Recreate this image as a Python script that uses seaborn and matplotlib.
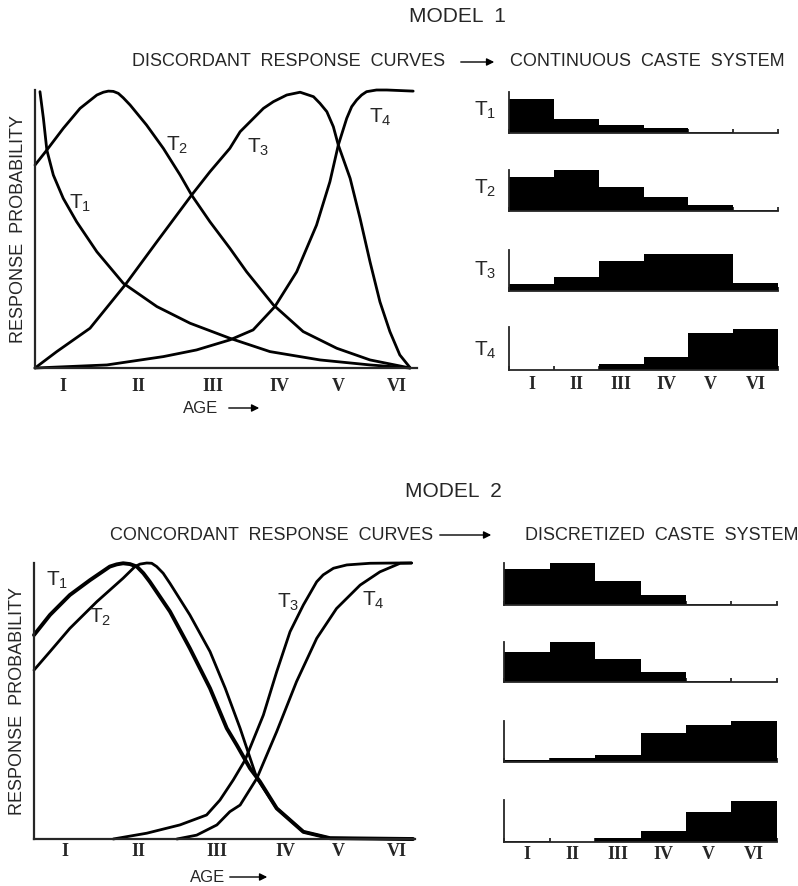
import numpy as np
import pandas as pd
import seaborn as sns
import matplotlib.pyplot as plt
from matplotlib.patches import FancyArrowPatch

sns.set_style("white")
plt.rcParams['font.family'] = ['Liberation Sans', 'DejaVu Sans']
plt.rcParams['mathtext.fontset'] = 'custom'
plt.rcParams['mathtext.rm'] = 'Liberation Sans'
plt.rcParams['mathtext.it'] = 'Liberation Sans'

# ---- data (age axis 0-100, probability 0-1) ----
ages = ['I', 'II', 'III', 'IV', 'V', 'VI']

# model 1: discordant response curves
m1_t1_x = [1.3, 2.2, 3.1, 4.8, 7.4, 10.9, 16.2, 23.1, 31.9, 40.6, 51.0, 61.5, 74.6, 87.7, 98.2]
m1_t1_y = [0.994, 0.898, 0.784, 0.694, 0.610, 0.526, 0.418, 0.305, 0.221, 0.161, 0.107, 0.059, 0.029, 0.011, 0.0]
m1_t2_x = [0, 3.1, 7.4, 11.8, 16.2, 17.9, 19.2, 20.5, 21.8, 23.1, 24.9, 29.2, 33.6, 38.0, 41.0, 45.8, 51.0, 55.4, 62.4, 70.2, 79.0, 87.7, 98.2]
m1_t2_y = [0.730, 0.784, 0.862, 0.934, 0.982, 0.992, 0.996, 0.995, 0.988, 0.972, 0.946, 0.874, 0.790, 0.694, 0.622, 0.526, 0.431, 0.346, 0.227, 0.131, 0.071, 0.029, 0.0]
m1_t3_x = [0, 5.7, 14.4, 23.6, 31.9, 41.0, 45.8, 51.0, 53.7, 59.8, 62.4, 65.9, 69.4, 72.9, 74.6, 76.4, 78.1, 79.4, 82.5, 85.1, 87.7, 90.3, 92.9, 95.5, 98.2]
m1_t3_y = [0, 0.059, 0.143, 0.299, 0.454, 0.622, 0.706, 0.790, 0.850, 0.934, 0.958, 0.982, 0.992, 0.976, 0.952, 0.922, 0.868, 0.802, 0.682, 0.538, 0.382, 0.238, 0.131, 0.047, 0.001]
m1_t4_x = [0, 18.8, 33.6, 42.3, 51.0, 57.1, 62.8, 68.5, 73.7, 77.2, 79.4, 81.6, 82.9, 84.2, 85.5, 86.8, 89.4, 92.1, 99.0]
m1_t4_y = [0, 0.011, 0.041, 0.065, 0.101, 0.137, 0.221, 0.346, 0.514, 0.670, 0.802, 0.898, 0.940, 0.964, 0.982, 0.994, 1.0, 1.0, 0.996]
m1_ticks = [7.3, 27.0, 46.6, 64.1, 79.3, 94.8]

# model 2: concordant response curves
m2_t1_x = [0, 4.2, 9.4, 14.7, 19.9, 21.7, 23.4, 25.2, 27.0, 28.7, 30.4, 35.7, 40.9, 46.2, 50.6, 53.2, 56.7, 59.3, 63.7, 70.7, 77.7, 99.5]
m2_t1_y = [0.739, 0.812, 0.884, 0.938, 0.987, 0.995, 0.999, 0.996, 0.987, 0.963, 0.932, 0.824, 0.691, 0.546, 0.401, 0.341, 0.256, 0.208, 0.111, 0.026, 0.003, 0.0]
m2_t2_x = [0, 4.2, 9.4, 16.5, 23.4, 26.5, 27.8, 29.6, 30.9, 32.2, 33.9, 35.7, 40.9, 46.2, 50.2, 54.1, 58.5, 63.7, 70.7, 77.7, 99.5]
m2_t2_y = [0.612, 0.679, 0.763, 0.860, 0.945, 0.987, 0.996, 1.0, 0.999, 0.987, 0.963, 0.926, 0.812, 0.679, 0.546, 0.401, 0.220, 0.111, 0.026, 0.003, 0.0]
m2_t3_x = [20.8, 29.6, 38.3, 45.3, 48.8, 52.3, 55.4, 60.2, 63.7, 67.2, 70.7, 74.2, 75.9, 78.6, 82.1, 88.2, 95.2, 99.1]
m2_t3_y = [0.0, 0.021, 0.051, 0.087, 0.141, 0.214, 0.286, 0.449, 0.606, 0.751, 0.848, 0.932, 0.957, 0.981, 0.993, 0.999, 1.0, 1.0]
m2_t4_x = [37.5, 42.7, 48.0, 51.4, 54.1, 58.5, 63.7, 68.9, 74.2, 79.4, 85.6, 90.8, 96.1, 99.1]
m2_t4_y = [0.0, 0.014, 0.051, 0.099, 0.123, 0.220, 0.389, 0.570, 0.727, 0.835, 0.920, 0.968, 0.999, 1.0]
m2_ticks = [8.1, 27.3, 48.0, 65.9, 79.8, 95.3]

# caste distributions (fraction of panel height)
m1_bars = [[0.82, 0.33, 0.19, 0.12, 0.02, 0.0],
           [0.82, 1.00, 0.58, 0.33, 0.15, 0.02],
           [0.16, 0.34, 0.74, 0.91, 0.91, 0.20],
           [0.0, 0.0, 0.14, 0.31, 0.86, 0.96]]
m2_bars = [[0.86, 1.00, 0.56, 0.23, 0.02, 0.01],
           [0.75, 1.00, 0.57, 0.26, 0.02, 0.01],
           [0.04, 0.10, 0.16, 0.70, 0.90, 1.00],
           [0.03, 0.01, 0.10, 0.26, 0.72, 0.98]]

W, H = 798, 886
fig = plt.figure(figsize=(W / 100, H / 100), dpi=100)


def box(l, t, r, b):
    return fig.add_axes([l / W, 1 - b / H, (r - l) / W, (b - t) / H])


def ftext(x, y, s, **kw):
    fig.text(x / W, 1 - y / H, s, **kw)


def arrow(x0, x1, y):
    fig.add_artist(FancyArrowPatch((x0 / W, 1 - y / H), (x1 / W, 1 - y / H),
                                   transform=fig.transFigure, arrowstyle='-|>',
                                   mutation_scale=11, lw=1.0, color='black'))


roman = dict(family='Liberation Serif', weight='bold', size=13)


def curve_panel(rect, curves, ticks, labels, thick=None, pad=7):
    ax = box(*rect)
    for i, (x, y) in enumerate(curves):
        lw = 2.8 if thick == i else 2.0
        sns.lineplot(x=x, y=y, ax=ax, color='black', lw=lw, sort=False,
                     estimator=None, clip_on=False, solid_joinstyle='round',
                     solid_capstyle='round')
    ax.set_xlim(0, 100)
    ax.set_ylim(0, 1)
    ax.set_yticks([])
    ax.set_xticks(ticks, ages)
    for t in ax.get_xticklabels():
        t.set_fontproperties(roman)
    ax.tick_params(axis='x', length=0, pad=pad)
    ax.set_xlabel('')
    ax.set_ylabel('RESPONSE  PROBABILITY', fontsize=13, labelpad=6)
    for s in ['top', 'right']:
        ax.spines[s].set_visible(False)
    for s in ['left', 'bottom']:
        ax.spines[s].set_linewidth(1.6)
    for (lx, ly, n) in labels:
        ax.text(lx, ly, 'T$_{%d}$' % n, fontsize=15, ha='center', va='center')
    return ax


def bar_panels(l, r, rows, vals, pad=3):
    edges = np.arange(-0.5, 6, 1.0)
    axes = []
    for (t, b), v in zip(rows, vals):
        ax = box(l, t, r, b)
        sns.barplot(x=ages, y=v, ax=ax, color='black', width=1.0, saturation=1,
                    linewidth=0)
        ax.set_xlim(-0.5, 5.5)
        ax.set_ylim(0, 1)
        ax.set_yticks([])
        ax.set_xticks(edges, minor=True)
        ax.tick_params(axis='x', which='minor', bottom=True, direction='in',
                       length=3.2, width=1.3)
        ax.tick_params(axis='x', which='major', length=0, pad=pad)
        ax.set_xticklabels([])
        for s in ['top', 'right']:
            ax.spines[s].set_visible(False)
        for s in ['left', 'bottom']:
            ax.spines[s].set_linewidth(1.3)
        axes.append(ax)
    last = axes[-1]
    last.set_xticks(range(6), ages)
    for t in last.get_xticklabels():
        t.set_fontproperties(roman)
    return axes


# ---------------- MODEL 1 ----------------
ftext(457, 16, 'MODEL  1', fontsize=15, ha='center', va='center')
ftext(132, 62, 'DISCORDANT  RESPONSE  CURVES', fontsize=13, va='center')
arrow(458, 497, 62)
ftext(510, 62, 'CONTINUOUS  CASTE  SYSTEM', fontsize=13, va='center')

curve_panel((35, 90, 417, 368),
            [(m1_t1_x, m1_t1_y), (m1_t2_x, m1_t2_y), (m1_t3_x, m1_t3_y), (m1_t4_x, m1_t4_y)],
            m1_ticks,
            [(11.8, 0.594, 1), (37.2, 0.802, 2), (58.4, 0.795, 3), (90.3, 0.903, 4)],
            pad=7)
ftext(183, 408, 'AGE', fontsize=12, va='center')
arrow(226, 262, 408)

bar_panels(509, 778, [(92, 133), (170, 211), (250, 291), (327, 370)], m1_bars, pad=4)
for yy, n in zip([110, 188, 270, 350], [1, 2, 3, 4]):
    ftext(485, yy, 'T$_{%d}$' % n, fontsize=15, ha='center', va='center')

# ---------------- MODEL 2 ----------------
ftext(453, 492, 'MODEL  2', fontsize=15, ha='center', va='center')
ftext(110, 535, 'CONCORDANT  RESPONSE  CURVES', fontsize=13, va='center')
arrow(437, 494, 535)
ftext(525, 535, 'DISCRETIZED  CASTE  SYSTEM', fontsize=13, va='center')

curve_panel((34, 563, 415, 839),
            [(m2_t1_x, m2_t1_y), (m2_t2_x, m2_t2_y), (m2_t3_x, m2_t3_y), (m2_t4_x, m2_t4_y)],
            m2_ticks,
            [(6.0, 0.938, 1), (17.3, 0.804, 2), (66.7, 0.859, 3), (89.0, 0.866, 4)],
            thick=0, pad=3)
ftext(190, 877, 'AGE', fontsize=12, va='center')
arrow(227, 270, 877)

bar_panels(504, 777, [(563, 605), (642, 682), (721, 762), (800, 842)], m2_bars, pad=3)

fig.savefig('out.png', dpi=100)
